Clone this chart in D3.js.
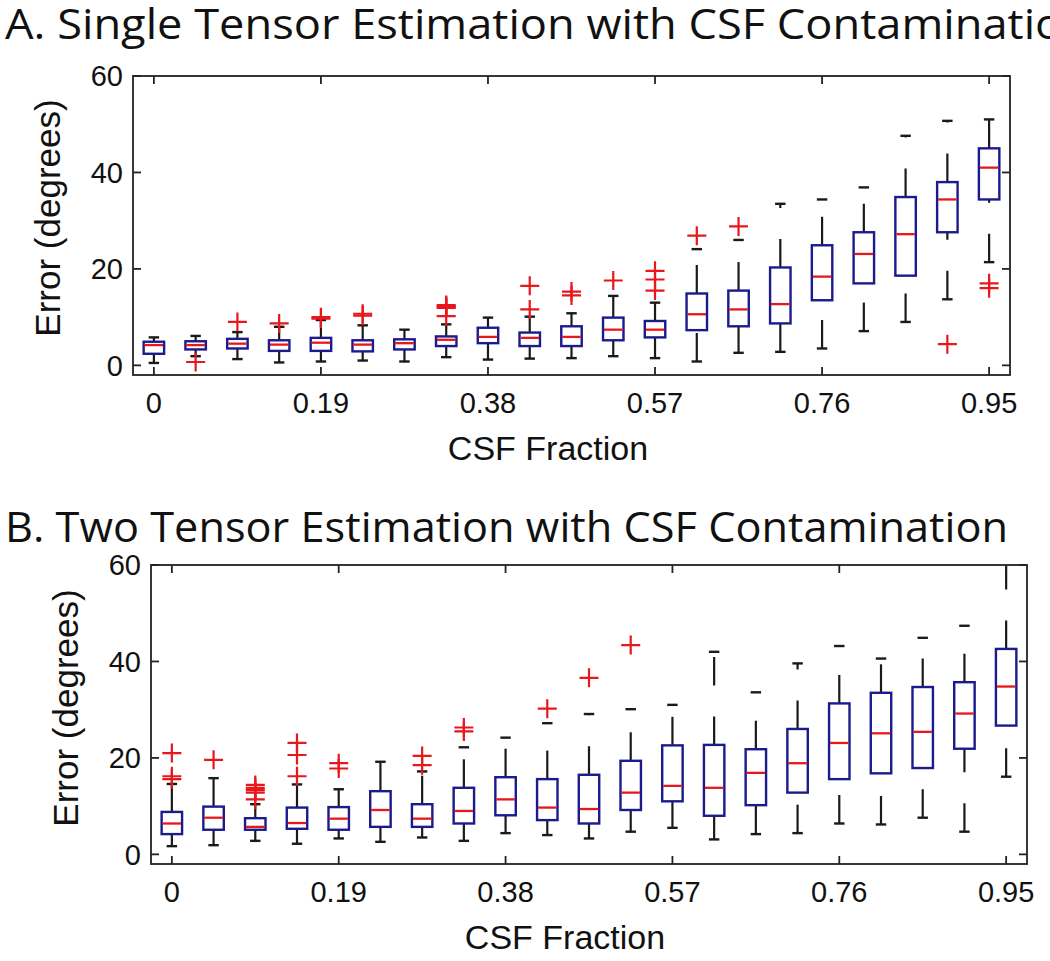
<!DOCTYPE html>
<html>
<head>
<meta charset="utf-8">
<script src="https://cdn.jsdelivr.net/npm/d3@7/dist/d3.min.js"></script>
<style>
  html, body { margin: 0; padding: 0; background: #fff; overflow: hidden; }
  svg { display: block; }
</style>
</head>
<body>
<svg id="chart" width="1050" height="961"></svg>
<script>
// ---------- DATA ----------
const csfFraction = [0, 0.0475, 0.095, 0.1425, 0.19, 0.2375, 0.285, 0.3325, 0.38, 0.4275,
  0.475, 0.5225, 0.57, 0.6175, 0.665, 0.7125, 0.76, 0.8075, 0.855, 0.9025, 0.95];
const xTickValues = [0, 0.19, 0.38, 0.57, 0.76, 0.95];
const xTickLabels = ["0", "0.19", "0.38", "0.57", "0.76", "0.95"];
const yTickValues = [0, 20, 40, 60];

// A. Single tensor
const singleLower  = [0.5, 1.9, 1.3, 0.6, 0.8, 1.0, 0.8, 1.7, 1.2, 1.4, 1.5, 1.9, 1.5, 0.8, 2.6, 2.8, 3.5, 7.1, 9.0, 13.7, 21.4];
const singleQ1     = [2.4, 3.3, 3.5, 3.0, 3.0, 2.9, 3.3, 4.0, 4.6, 4.0, 4.0, 5.2, 5.8, 7.3, 8.1, 8.7, 13.5, 17.0, 18.6, 27.6, 34.4];
const singleMedian = [4.2, 4.2, 4.5, 4.3, 4.7, 4.3, 4.6, 5.3, 5.9, 5.7, 5.9, 7.4, 7.4, 10.6, 11.6, 12.7, 18.4, 23.1, 27.2, 34.4, 41.0];
const singleQ3     = [4.9, 5.0, 5.5, 5.2, 5.7, 5.2, 5.4, 6.0, 7.8, 6.8, 8.1, 9.9, 9.2, 14.9, 15.5, 20.3, 24.9, 27.6, 34.9, 38.0, 45.0];
const singleUpper  = [5.8, 6.1, 6.9, 8.0, 9.4, 8.3, 7.4, 8.5, 9.9, 10.1, 10.8, 14.4, 13.0, 24.1, 26.0, 33.5, 34.4, 36.9, 47.6, 50.7, 51.0];
const singleOutliers = [[], [0.7], [9.0], [8.7], [9.7, 10.0], [10.3, 10.7], [],
  [10.2, 11.9, 12.1, 12.3, 12.5], [], [11.6, 16.5], [14.5, 15.3], [17.6], [15.5, 17.8, 19.6],
  [26.9], [28.8], [], [], [], [], [4.4], [16.0, 17.0]];

// B. Two tensor
const twoLower  = [1.7, 1.9, 2.8, 2.2, 3.3, 2.6, 3.5, 2.8, 4.4, 4.0, 3.3, 4.7, 5.5, 3.1, 4.2, 4.4, 6.4, 6.2, 7.6, 4.7, 16.1];
const twoQ1     = [4.2, 5.1, 5.1, 5.3, 5.1, 5.7, 5.7, 6.4, 8.1, 7.1, 6.4, 9.2, 11.0, 8.0, 10.2, 12.8, 15.6, 16.8, 17.9, 21.9, 26.7];
const twoMedian = [6.4, 7.6, 5.7, 6.5, 7.4, 9.2, 7.4, 9.0, 11.4, 9.7, 9.4, 12.8, 14.2, 13.8, 16.9, 18.9, 23.1, 25.1, 25.4, 29.2, 34.8];
const twoQ3     = [8.8, 9.9, 7.5, 9.7, 9.8, 13.1, 10.4, 13.8, 16.0, 15.6, 16.5, 19.4, 22.6, 22.7, 21.8, 26.0, 31.3, 33.5, 34.7, 35.7, 42.6];
const twoUpper  = [14.6, 15.8, 10.4, 14.5, 13.5, 19.2, 17.2, 22.2, 24.2, 27.2, 29.1, 30.1, 31.0, 42.0, 33.6, 39.6, 43.2, 40.6, 44.9, 47.4, 62.0];
const twoOutliers = [[15.6, 16.2, 21.0], [19.6], [11.4, 12.8, 13.3, 13.8, 14.4], [16.2, 20.6, 23.1],
  [17.8, 18.9], [], [18.5, 20.4], [25.5, 26.3], [], [30.2], [36.6], [43.4],
  [], [], [], [], [], [], [], [], []];

const titles = ["A. Single Tensor Estimation with CSF Contamination",
                "B. Two Tensor Estimation with CSF Contamination"];
const xLabel = "CSF Fraction";
const yLabel = "Error (degrees)";

// ---------- LAYOUT ----------
const svg = d3.select("#chart");
const panels = [
  { left: 133, right: 1010, top: 76, bottom: 375, titleY: 38.5, titleLen: 1085,
    yLabX: 60, yLabY: 218, xLabX: 548, xLabY: 460,
    lower: singleLower, q1: singleQ1, med: singleMedian, q3: singleQ3, upper: singleUpper, out: singleOutliers },
  { left: 151, right: 1027, top: 565, bottom: 864, titleY: 542, titleLen: 1003,
    yLabX: 78, yLabY: 708, xLabX: 565, xLabY: 949,
    lower: twoLower, q1: twoQ1, med: twoMedian, q3: twoQ3, upper: twoUpper, out: twoOutliers }
];

const boxColor = "#1b1b8e";
const medColor = "#e8171c";
const lineColor = "#1a1a1a";

panels.forEach((p, pi) => {
  const x = d3.scalePoint().domain(csfFraction).range([p.left, p.right]).padding(0.5);
  const y = d3.scaleLinear().domain([-2, 60]).range([p.bottom, p.top]);
  const step = x.step();
  const boxW = step * 0.49;
  const capW = step * 0.25;

  const g = svg.append("g");
  const clipId = "clip" + pi;
  svg.append("clipPath").attr("id", clipId).append("rect")
    .attr("x", p.left).attr("y", p.top).attr("width", p.right - p.left).attr("height", p.bottom - p.top);

  // title
  svg.append("text")
    .attr("x", 5).attr("y", p.titleY)
    .attr("font-family", "'Open Sans', 'Noto Sans', sans-serif")
    .attr("font-size", 42)
    .attr("textLength", p.titleLen).attr("lengthAdjust", "spacingAndGlyphs")
    .attr("fill", "#111")
    .text(titles[pi]);

  const plot = g.append("g").attr("clip-path", `url(#${clipId})`);

  const rows = csfFraction.map((c, i) => ({
    c, lo: p.lower[i], q1: p.q1[i], med: p.med[i], q3: p.q3[i], hi: p.upper[i], out: p.out[i]
  }));

  // whiskers (dashed)
  plot.selectAll(".wu").data(rows).join("line")
    .attr("x1", d => x(d.c)).attr("x2", d => x(d.c))
    .attr("y1", d => y(d.q3)).attr("y2", d => y(d.hi))
    .attr("stroke", lineColor).attr("stroke-width", 2.2)
    .attr("stroke-dasharray", "28.5,31");
  plot.selectAll(".wl").data(rows).join("line")
    .attr("x1", d => x(d.c)).attr("x2", d => x(d.c))
    .attr("y1", d => y(d.lo)).attr("y2", d => y(d.q1))
    .attr("stroke", lineColor).attr("stroke-width", 2.2)
    .attr("stroke-dasharray", "28.5,31");
  // caps
  plot.selectAll(".cu").data(rows).join("line")
    .attr("x1", d => x(d.c) - capW / 2).attr("x2", d => x(d.c) + capW / 2)
    .attr("y1", d => y(d.hi)).attr("y2", d => y(d.hi))
    .attr("stroke", lineColor).attr("stroke-width", 2.4);
  plot.selectAll(".cl").data(rows).join("line")
    .attr("x1", d => x(d.c) - capW / 2).attr("x2", d => x(d.c) + capW / 2)
    .attr("y1", d => y(d.lo)).attr("y2", d => y(d.lo))
    .attr("stroke", lineColor).attr("stroke-width", 2.4);
  // boxes
  plot.selectAll(".bx").data(rows).join("rect")
    .attr("x", d => x(d.c) - boxW / 2).attr("width", boxW)
    .attr("y", d => y(d.q3)).attr("height", d => y(d.q1) - y(d.q3))
    .attr("fill", "none").attr("stroke", boxColor).attr("stroke-width", 2.4);
  // medians
  plot.selectAll(".md").data(rows).join("line")
    .attr("x1", d => x(d.c) - boxW / 2 + 1).attr("x2", d => x(d.c) + boxW / 2 - 1)
    .attr("y1", d => y(d.med)).attr("y2", d => y(d.med))
    .attr("stroke", medColor).attr("stroke-width", 2.3);
  // outliers
  const outs = rows.flatMap(d => d.out.map(v => ({ c: d.c, v })));
  plot.selectAll(".ol").data(outs).join("path")
    .attr("transform", d => `translate(${x(d.c)},${y(d.v)})`)
    .attr("d", "M-9.5,0H9.5M0,-9.5V9.5")
    .attr("stroke", medColor).attr("stroke-width", 2.2).attr("fill", "none");

  // frame
  g.append("rect").attr("x", p.left).attr("y", p.top)
    .attr("width", p.right - p.left).attr("height", p.bottom - p.top)
    .attr("fill", "none").attr("stroke", "#222").attr("stroke-width", 1.8);

  const tickLen = 8;
  // x ticks bottom & top
  g.selectAll(".xtb").data(xTickValues).join("line")
    .attr("x1", d => x(csfFraction[d3.minIndex(csfFraction, c => Math.abs(c - d))]))
    .attr("x2", d => x(csfFraction[d3.minIndex(csfFraction, c => Math.abs(c - d))]))
    .attr("y1", p.bottom).attr("y2", p.bottom - tickLen)
    .attr("stroke", "#222").attr("stroke-width", 1.8);
  g.selectAll(".xtt").data(xTickValues).join("line")
    .attr("x1", d => x(csfFraction[d3.minIndex(csfFraction, c => Math.abs(c - d))]))
    .attr("x2", d => x(csfFraction[d3.minIndex(csfFraction, c => Math.abs(c - d))]))
    .attr("y1", p.top).attr("y2", p.top + tickLen)
    .attr("stroke", "#222").attr("stroke-width", 1.8);
  g.selectAll(".xtl").data(xTickValues).join("text")
    .attr("x", d => x(csfFraction[d3.minIndex(csfFraction, c => Math.abs(c - d))]))
    .attr("y", p.bottom + 38)
    .attr("text-anchor", "middle")
    .attr("font-family", "'Liberation Sans', Arial, sans-serif")
    .attr("font-size", 29).attr("fill", "#111")
    .text((d, i) => xTickLabels[i]);

  // y ticks left & right
  g.selectAll(".ytl").data(yTickValues).join("line")
    .attr("x1", p.left).attr("x2", p.left + tickLen)
    .attr("y1", d => y(d)).attr("y2", d => y(d))
    .attr("stroke", "#222").attr("stroke-width", 1.8);
  g.selectAll(".ytr").data(yTickValues).join("line")
    .attr("x1", p.right).attr("x2", p.right - tickLen)
    .attr("y1", d => y(d)).attr("y2", d => y(d))
    .attr("stroke", "#222").attr("stroke-width", 1.8);
  g.selectAll(".ylab").data(yTickValues).join("text")
    .attr("x", p.left - 10).attr("y", d => y(d))
    .attr("dy", "0.36em")
    .attr("text-anchor", "end")
    .attr("font-family", "'Liberation Sans', Arial, sans-serif")
    .attr("font-size", 29).attr("fill", "#111")
    .text(d => d);

  // axis labels
  g.append("text")
    .attr("x", p.xLabX).attr("y", p.xLabY)
    .attr("text-anchor", "middle")
    .attr("font-family", "'Liberation Sans', Arial, sans-serif")
    .attr("font-size", 34).attr("fill", "#111")
    .text(xLabel);
  g.append("text")
    .attr("transform", `translate(${p.yLabX},${p.yLabY}) rotate(-90)`)
    .attr("text-anchor", "middle")
    .attr("font-family", "'Liberation Sans', Arial, sans-serif")
    .attr("font-size", 35).attr("fill", "#111")
    .text(yLabel);
});
</script>
</body>
</html>
